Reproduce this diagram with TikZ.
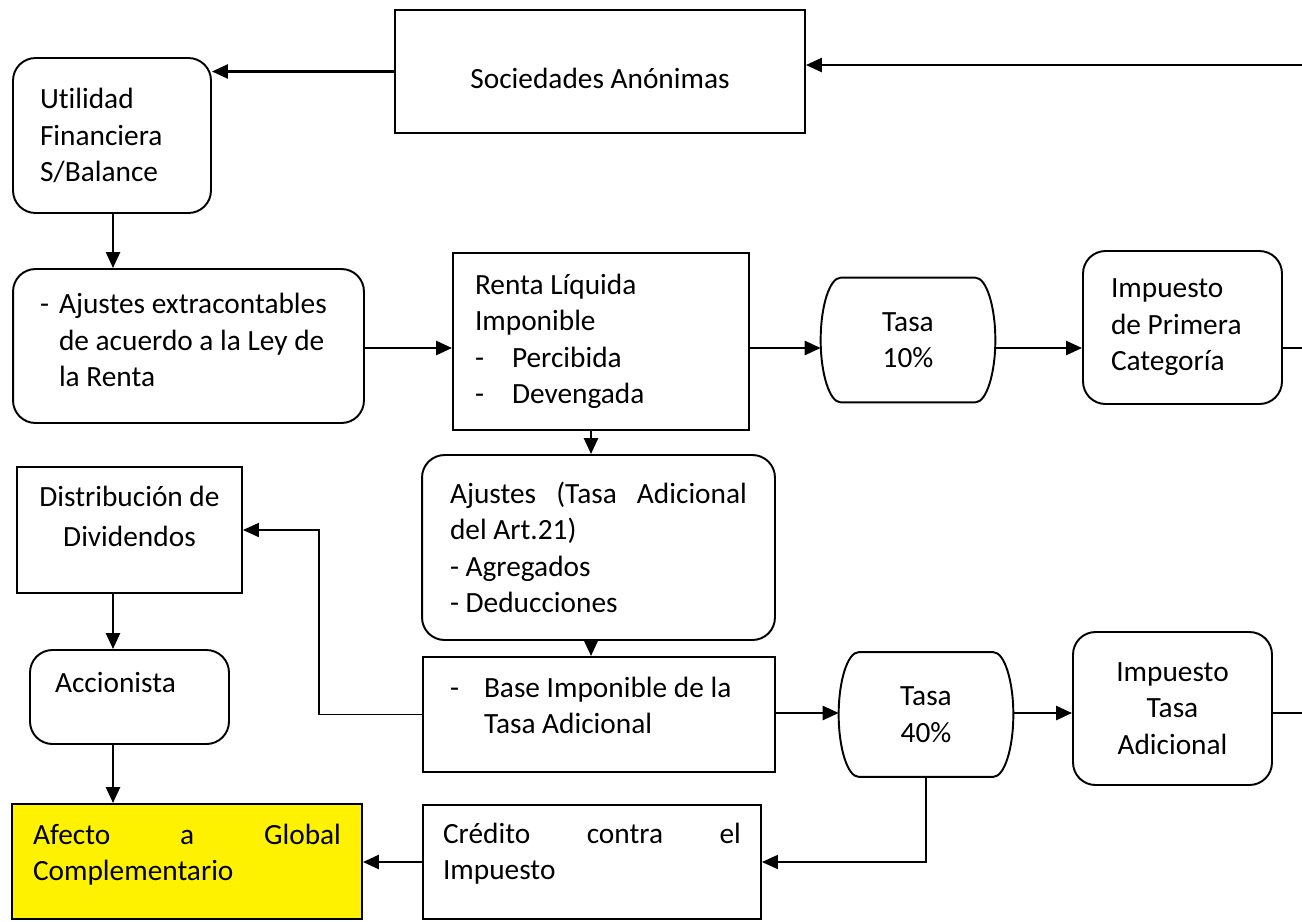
\documentclass[tikz,border=0pt]{standalone}
\usepackage{fontspec}
\setmainfont{Carlito}[Ligatures=NoCommon]
\usetikzlibrary{arrows.meta}
\tikzstyle{box}=[draw, line width=1.1pt, inner sep=0pt, font=\fontsize{16.7}{20.8}\selectfont]
\tikzstyle{roundbox}=[box, rounded corners=0.45cm]
\tikzstyle{tasa}=[inner sep=0pt, minimum width=3.48cm, minimum height=2.48cm, align=center, font=\fontsize{16.7}{20.8}\selectfont]
\tikzstyle{line}=[draw=black, line width=1.1pt]
\tikzstyle{arrow}=[draw=black, line width=1.5pt, -{Triangle[length=0.32cm, width=0.28cm]}]

\begin{document}
\begin{tikzpicture}[x=0.02cm, y=-0.02cm]
		   \useasboundingbox (0,0) rectangle (1302,921);
		   \begin{scope}
			   \node (soc) at (600,71.5)[box, minimum width=8.2cm, minimum height=2.46cm, text height=0.7cm] {Sociedades Anónimas};
			   \node (util) at (112,135.5)[roundbox, minimum width=3.96cm, minimum height=3.1cm, text width=2.88cm, align=flush left] {Utilidad\\Financiera\\S/Balance};
			   \node (ajx) at (188.5,346)[roundbox, minimum width=7.02cm, minimum height=3.08cm, text width=5.94cm, align=flush left, text depth=1.7cm] {\makebox[0.38cm][l]{-}Ajustes extracontables\\\hspace*{0.38cm}de acuerdo a la Ley de\\\hspace*{0.38cm}la Renta};
			   \node (renta) at (601,341.5)[box, minimum width=5.92cm, minimum height=3.54cm, text width=5.04cm, align=flush left] {Renta Líquida\\Imponible\\\makebox[0.74cm][l]{-}Percibida\\\makebox[0.74cm][l]{-}Devengada};
			   \node (t10) at (908,340)[tasa] {Tasa\\10\%};
			   \node (imp1) at (1182.5,327.5)[roundbox, minimum width=3.98cm, minimum height=3.06cm, text width=2.86cm, align=flush left] {Impuesto\\de Primera\\Categoría};
			   \node (ajt) at (598.5,547.5)[roundbox, minimum width=7.06cm, minimum height=3.7cm, text width=5.94cm, align=flush left] {Ajustes \hfill (Tasa \hfill Adicional\\del Art.21)\\- Agregados\\- Deducciones};
			   \node (base) at (599,714.5)[box, minimum width=7.04cm, minimum height=2.3cm, text width=5.96cm, align=flush left, text depth=1.1cm] {\makebox[0.68cm][l]{-}Base Imponible de la\\\hspace*{0.68cm}Tasa Adicional};
			   \node (dist) at (129.5,530)[box, minimum width=4.5cm, minimum height=2.52cm, text width=4.2cm, align=flush center, text depth=1.34cm] {Distribución de\\[0.06cm]Dividendos};
			   \node (acc) at (129.5,697)[roundbox, minimum width=3.98cm, minimum height=1.88cm, text width=2.98cm, align=flush left, text depth=0.58cm] {Accionista};
			   \node (afe) at (187,861.5)[box, fill=yellow, minimum width=7cm, minimum height=2.3cm, text width=6.16cm, align=flush left, text depth=1.1cm] {Afecto \hfill a \hfill Global\\Complementario};
			   \node (cred) at (592,862)[box, minimum width=6.76cm, minimum height=2.28cm, text width=5.96cm, align=flush left, text depth=1.16cm] {Crédito \hfill contra \hfill el\\Impuesto};
			   \node (t40) at (926,714.5)[tasa] {Tasa\\40\%};
			   \node (imp2) at (1172.5,708.5)[roundbox, minimum width=3.98cm, minimum height=3.06cm, align=center] {Impuesto\\Tasa\\Adicional};
		   \end{scope}
		   % outline of the two rate shapes
		   \foreach \n in {t10,t40}
			   \path [line] ([xshift=0.4cm]\n.north west) -- ([xshift=-0.4cm]\n.north east)
				   .. controls ([xshift=-0.18cm]\n.north east) and ([yshift=0.68cm]\n.east) .. (\n.east)
				   .. controls ([yshift=-0.68cm]\n.east) and ([xshift=-0.18cm]\n.south east) .. ([xshift=-0.4cm]\n.south east)
				   -- ([xshift=0.4cm]\n.south west)
				   .. controls ([xshift=0.18cm]\n.south west) and ([yshift=-0.68cm]\n.west) .. (\n.west)
				   .. controls ([yshift=0.68cm]\n.west) and ([xshift=0.18cm]\n.north west) .. cycle;
		   \begin{scope}
			   \coordinate (in1) at (1302,65);
			   \coordinate (out1) at (1302,348);
			   \coordinate (out2) at (1302,713);
			   \coordinate (colL) at (113,0);
			   \coordinate (colM) at (591,0);
			   \path [arrow] (in1) -- (in1 -| soc.east);
			   \path [arrow] (soc.west) -- (soc.west -| util.east);
			   \path [arrow] (util.south -| colL) -- (ajx.north -| colL);
			   \path [arrow] (ajx.east |- out1) -- (renta.west |- out1);
			   \path [arrow] (renta.east |- out1) -- (t10.west |- out1);
			   \path [arrow] (t10.east |- out1) -- (imp1.west |- out1);
			   \path [line] (imp1.east |- out1) -- (out1);
			   \path [arrow] (renta.south -| colM) -- (ajt.north -| colM);
			   \path [arrow] (ajt.south -| colM) -- (base.north -| colM);
			   \path [arrow] (base.east |- out2) -- (t40.west |- out2);
			   \path [arrow] (t40.east |- out2) -- (imp2.west |- out2);
			   \path [line] (imp2.east |- out2) -- (out2);
			   \path [arrow, line width=1.1pt] (base.west) -- ++(-103,0) |- (dist.east);
			   \path [arrow] (dist.south -| colL) -- (acc.north -| colL);
			   \path [arrow] (acc.south -| colL) -- (afe.north -| colL);
			   \path [arrow, line width=1.1pt] (t40.south) |- (cred.east);
			   \path [arrow] (cred.west) -- (cred.west -| afe.east);
		   \end{scope}
	   \end{tikzpicture}
\end{document}
